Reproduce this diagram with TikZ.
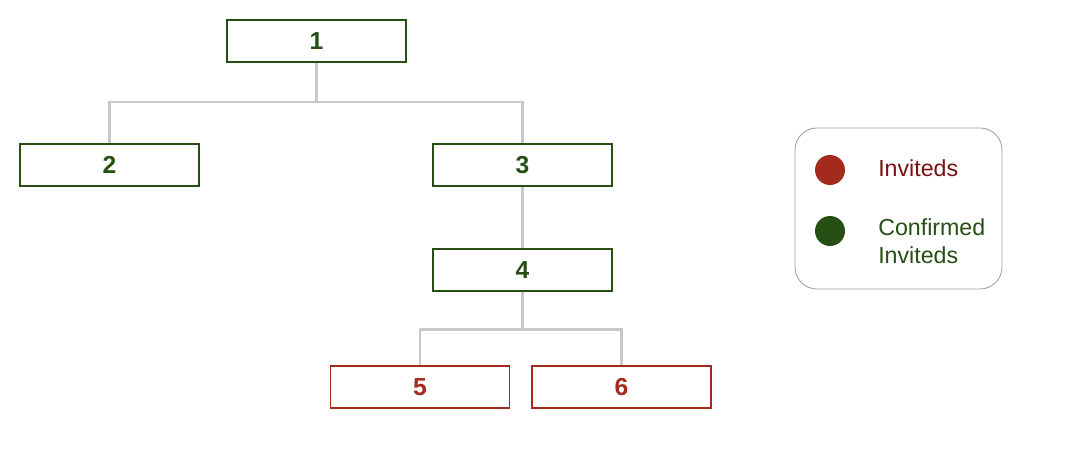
\documentclass[tikz,border=0pt]{standalone}
\usepackage{fontspec}
\setmainfont{Liberation Sans}
\usetikzlibrary{positioning}
\definecolor{okgreen}{HTML}{274E13}
\definecolor{invred}{HTML}{A52A1E}
\definecolor{invtext}{HTML}{7A1111}
\definecolor{wire}{HTML}{C8C8C8}
\definecolor{frame}{HTML}{9E9E9E}
\tikzset{
  member/.style={draw=okgreen, fill=white, line width=1.2pt, minimum width=4.475cm,
                 minimum height=1.05cm, inner sep=0pt, text=okgreen,
                 font=\fontsize{17.5}{20}\selectfont\bfseries},
  invitee/.style={member, draw=invred, text=invred},
  link/.style={draw=wire, line width=1.6pt},
  dot/.style={circle, minimum size=0.75cm, inner sep=0pt},
  keytext/.style={anchor=west, align=left, inner sep=0pt,
                  font=\fontsize{16.5}{20}\selectfont},
}
\begin{document}
\begin{tikzpicture}[x=0.025cm, y=-0.025cm]
  \useasboundingbox (0,0) rectangle (1068,474);

  % tree
  \node[member] (n1) at (316.5,41) {1};
  \node[member] (n2) at (109.5,165) {2};
  \node[member] (n3) at (522.5,165) {3};
  \node[member, below=1.525cm of n3] (n4) {4};
  \node[invitee] (n5) at (420,387) {5};
  \node[invitee] (n6) at (621.5,387) {6};

  \draw[link] (n1.south) -- ++(0,39) -| (n2.north);
  \draw[link] (n1.south) -- ++(0,39) -| (n3.north);
  \draw[link] (n3.south) -- (n4.north);
  \draw[link] (n4.south) -- ++(0,38) -| (n5.north);
  \draw[link] (n4.south) -- ++(0,38) -| (n6.north);

  % legend
  \node[draw=frame, line width=0.6pt, rounded corners=0.55cm, minimum width=5.175cm,
        minimum height=4.025cm] (key) at (898.5,208.5) {};
  \node[dot, fill=invred] (dotinv) at (830,170) {};
  \node[dot, fill=okgreen] (dotok) at (830,231) {};
  \node[keytext, text=invtext] (txtinv) at (878,168) {Inviteds};
  \node[keytext, text=okgreen] (txtok) at (878,241) {Confirmed\\Inviteds};
\end{tikzpicture}
\end{document}
